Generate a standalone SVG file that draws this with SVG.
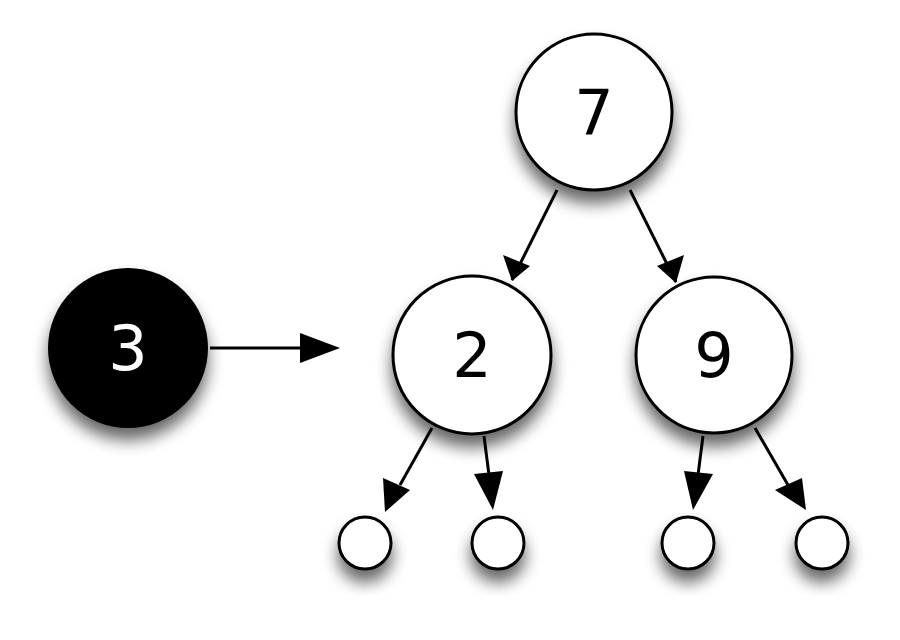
<svg xmlns="http://www.w3.org/2000/svg" width="900" height="640" viewBox="0 0 900 640">
<defs>
<filter id="sh" x="-50%" y="-50%" width="200%" height="200%">
<feGaussianBlur in="SourceAlpha" stdDeviation="8"/>
<feOffset dx="0" dy="12" result="b"/>
<feComponentTransfer><feFuncA type="linear" slope="0.6"/></feComponentTransfer>
<feMerge><feMergeNode/><feMergeNode in="SourceGraphic"/></feMerge>
</filter>
<marker id="ah" viewBox="0 0 10 10" refX="10" refY="5" markerWidth="12" markerHeight="10" markerUnits="userSpaceOnUse" orient="auto" preserveAspectRatio="none">
<path d="M0,0 L10,5 L0,10 z" fill="#000"/>
</marker>
<style>
.n{fill:#fff;stroke:#000;stroke-width:3}
.t{font-family:"DejaVu Sans",sans-serif;font-size:62px;text-anchor:middle}
.e{stroke:#000;stroke-width:3;fill:none}
</style>
</defs>
<rect width="900" height="640" fill="#fff"/>
<g id="connectors">
<line class="e" x1="557" y1="190" x2="512" y2="280"/>
<path d="M512,281 L503,255 L530,266 z"/>
<line class="e" x1="630" y1="190" x2="676" y2="282"/>
<path d="M676,283 L657,266 L684,255 z"/>
<line class="e" x1="210" y1="348" x2="305" y2="348"/>
<path d="M340,348 L300,333 L300,363 z"/>
<line class="e" x1="432" y1="428" x2="400" y2="485"/>
<path d="M385,512 L383,478 L410,490 z"/>
<line class="e" x1="484" y1="436" x2="489" y2="475"/>
<path d="M493,510 L474,474 L503,471 z"/>
<line class="e" x1="703" y1="436" x2="698" y2="475"/>
<path d="M693,510 L684,471 L713,474 z"/>
<line class="e" x1="755" y1="428" x2="788" y2="485"/>
<path d="M806,510 L775,490 L802,478 z"/>
</g>
<g id="n7"><circle class="n" cx="594" cy="112" r="78" filter="url(#sh)"/><text class="t" x="594" y="134">7</text></g>
<g id="n2"><circle class="n" cx="472" cy="355" r="79" filter="url(#sh)"/><text class="t" x="472" y="377">2</text></g>
<g id="n9"><circle class="n" cx="714" cy="355" r="78" filter="url(#sh)"/><text class="t" x="714" y="377">9</text></g>
<g id="n3"><circle cx="128" cy="348" r="80" fill="#000" filter="url(#sh)"/><text class="t" x="128" y="370" fill="#fff">3</text></g>
<g id="l1"><circle class="n" cx="365" cy="543" r="26" filter="url(#sh)"/></g>
<g id="l2"><circle class="n" cx="498" cy="543" r="26" filter="url(#sh)"/></g>
<g id="l3"><circle class="n" cx="688" cy="543" r="26" filter="url(#sh)"/></g>
<g id="l4"><circle class="n" cx="822" cy="543" r="26" filter="url(#sh)"/></g>
</svg>
